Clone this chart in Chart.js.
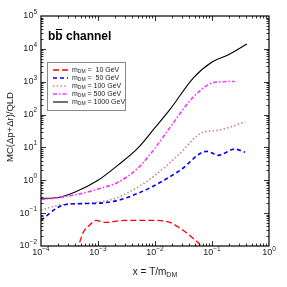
<!DOCTYPE html>
<html>
<head>
<meta charset="utf-8">
<script src="https://cdn.jsdelivr.net/npm/chart.js@4/dist/chart.umd.min.js"></script>
<style>
  body { margin: 0; background: #fff; }
  canvas { display: block; }
</style>
</head>
<body>
<canvas id="chart" width="287" height="287"></canvas>
<script>
// x = T/m_DM values, one list per curve
const x10 = [4.27e-4, 5.5e-4, 7.0e-4, 9.1e-4, 1.32e-3, 2.95e-3, 1.0e-2, 1.82e-2, 3.1e-2, 4.68e-2, 6.9e-2, 7.4e-2];
const y10 = [0.0071, 0.0257, 0.042, 0.060, 0.0525, 0.060, 0.060, 0.0525, 0.030, 0.017, 0.0091, 0.0079];

const x50 = [1e-4, 2.0e-4, 2.95e-4, 1e-3, 2.24e-3, 5.0e-3, 1e-2, 2.75e-2, 8.1e-2, 0.129, 0.25, 0.38];
const y50 = [0.060, 0.151, 0.186, 0.20, 0.245, 0.40, 0.71, 2.0, 7.6, 5.75, 8.9, 7.1];

const x100 = [1e-4, 2.0e-4, 1e-3, 2.24e-3, 5.0e-3, 1e-2, 2.5e-2, 6.9e-2, 0.123, 0.38];
const y100 = [0.123, 0.174, 0.214, 0.30, 0.62, 1.41, 5.6, 28.8, 33, 59];

const x500 = [1e-4, 2.0e-4, 3.98e-4, 1e-3, 2.24e-3, 5.0e-3, 1e-2, 1.82e-2, 4.68e-2, 0.1, 0.151, 0.25];
const y500 = [0.26, 0.295, 0.36, 0.54, 0.87, 2.34, 9.5, 40, 339, 912, 1000, 1020];

const x1000 = [1e-4, 2.0e-4, 3.98e-4, 1e-3, 2.24e-3, 5.0e-3, 1e-2, 1.82e-2, 4.68e-2, 0.1, 0.19, 0.41];
const y1000 = [0.28, 0.30, 0.44, 1.0, 2.9, 9.5, 40, 141, 1290, 3980, 6460, 14100];

const seriesLabels = ["=  10 GeV", "=  50 GeV", "= 100 GeV", "= 500 GeV", "= 1000 GeV"];
const xTickExps = [-4, -3, -2, -1, 0];
const yTickExps = [-2, -1, 0, 1, 2, 3, 4, 5];

const FONT = "'Liberation Sans', Arial, Helvetica, sans-serif";

function pts(xs, ys) {
    return xs.map((x, i) => ({ x: x, y: ys[i] }));
}

const styles = [
    { color: "#ff0000", dash: [6, 3], width: 1.3 },
    { color: "#0000ff", dash: [4, 3], width: 1.6 },
    { color: "#cd8585", dash: [1.5, 2.2], width: 1.6 },
    { color: "#ff33ff", dash: [4, 2, 1.5, 2], width: 1.6 },
    { color: "#000000", dash: [], width: 1.1 },
];
const allData = [pts(x10, y10), pts(x50, y50), pts(x100, y100), pts(x500, y500), pts(x1000, y1000)];

const datasets = allData.map((d, i) => ({
    label: seriesLabels[i],
    data: d,
    borderColor: styles[i].color,
    borderDash: styles[i].dash,
    borderWidth: styles[i].width,
    pointRadius: 0,
    cubicInterpolationMode: "monotone",
    fill: false,
}));

// draw "10" with a raised exponent
function powText(ctx, exp, x, y, align) {
    ctx.font = "9px " + FONT;
    const base = "10";
    const bw = ctx.measureText(base).width;
    ctx.font = "6.5px " + FONT;
    const es = exp < 0 ? "\u2212" + (-exp) : String(exp);
    const ew = ctx.measureText(es).width;
    let x0 = x;
    if (align === "right") x0 = x - bw - ew;
    if (align === "center") x0 = x - (bw + ew) / 2;
    ctx.textAlign = "left";
    ctx.textBaseline = "middle";
    ctx.font = "9px " + FONT;
    ctx.fillText(base, x0, y);
    ctx.font = "6.5px " + FONT;
    ctx.fillText(es, x0 + bw, y - 4);
}

const framePlugin = {
    id: "frame",
    afterDraw(chart) {
        const ctx = chart.ctx;
        const a = chart.chartArea;
        const xs = chart.scales.x;
        const ys = chart.scales.y;
        ctx.save();
        ctx.fillStyle = "#000";
        ctx.strokeStyle = "#000";

        // box
        ctx.lineWidth = 1.2;
        ctx.strokeRect(a.left, a.top, a.right - a.left, a.bottom - a.top);

        // ticks on all four sides, pointing inward
        ctx.lineWidth = 0.8;
        ctx.beginPath();
        for (let e = -4; e < 0; e++) {
            for (let m = 1; m <= 9; m++) {
                if (m === 1 && e === -4) continue;
                const px = Math.round(xs.getPixelForValue(m * Math.pow(10, e))) + 0.5;
                const len = m === 1 ? 5 : 2.5;
                ctx.moveTo(px, a.bottom); ctx.lineTo(px, a.bottom - len);
                ctx.moveTo(px, a.top); ctx.lineTo(px, a.top + len);
            }
        }
        for (let e = -2; e < 5; e++) {
            for (let m = 1; m <= 9; m++) {
                if (m === 1 && e === -2) continue;
                const py = Math.round(ys.getPixelForValue(m * Math.pow(10, e))) + 0.5;
                const len = m === 1 ? 5 : 2.5;
                ctx.moveTo(a.left, py); ctx.lineTo(a.left + len, py);
                ctx.moveTo(a.right, py); ctx.lineTo(a.right - len, py);
            }
        }
        ctx.stroke();

        // tick labels
        ctx.fillStyle = "#222";
        xTickExps.forEach((e) => {
            powText(ctx, e, xs.getPixelForValue(Math.pow(10, e)), a.bottom + 7, "center");
        });
        yTickExps.forEach((e) => {
            powText(ctx, e, a.left - 4, ys.getPixelForValue(Math.pow(10, e)), "right");
        });

        // x title
        ctx.textBaseline = "alphabetic";
        ctx.textAlign = "left";
        ctx.font = "10px " + FONT;
        const t1 = "x = T/m";
        const w1 = ctx.measureText(t1).width;
        ctx.font = "7px " + FONT;
        const w2 = ctx.measureText("DM").width;
        const xt = (a.left + a.right) / 2 - (w1 + w2) / 2;
        ctx.font = "10px " + FONT;
        ctx.fillText(t1, xt, 275);
        ctx.font = "7px " + FONT;
        ctx.fillText("DM", xt + w1, 277);

        // y title
        ctx.save();
        ctx.translate(13, 127);
        ctx.rotate(-Math.PI / 2);
        ctx.textAlign = "center";
        ctx.font = "9.5px " + FONT;
        ctx.fillText("MC(\u0394p+\u0394r)/QLD", 0, 0);
        ctx.restore();

        // channel label
        ctx.fillStyle = "#000";
        ctx.font = "bold 12px " + FONT;
        ctx.textAlign = "left";
        ctx.fillText("bb channel", 48, 40);
        const bw = ctx.measureText("b").width;
        ctx.lineWidth = 1;
        ctx.beginPath();
        ctx.moveTo(48 + bw + 0.5, 29.5);
        ctx.lineTo(48 + 2 * bw - 0.5, 29.5);
        ctx.stroke();

        // legend
        ctx.strokeStyle = "#888";
        ctx.lineWidth = 1;
        ctx.strokeRect(47.5, 62.5, 78, 48);
        chart.data.datasets.forEach((ds, i) => {
            const ry = 70 + i * 8;
            ctx.strokeStyle = ds.borderColor;
            ctx.lineWidth = ds.borderWidth;
            ctx.setLineDash(ds.borderDash);
            ctx.beginPath();
            ctx.moveTo(53, ry);
            ctx.lineTo(68, ry);
            ctx.stroke();
            ctx.setLineDash([]);
            ctx.fillStyle = "#222";
            ctx.textBaseline = "middle";
            ctx.font = "7px " + FONT;
            ctx.fillText("m", 72, ry);
            const mw = ctx.measureText("m").width;
            ctx.font = "5px " + FONT;
            ctx.fillText("DM", 72 + mw, ry + 2);
            const dw = ctx.measureText("DM").width;
            ctx.font = "7px " + FONT;
            ctx.fillText(" " + ds.label, 72 + mw + dw, ry);
        });
        ctx.restore();
    },
};

new Chart(document.getElementById("chart"), {
    type: "line",
    data: { datasets: datasets },
    plugins: [framePlugin],
    options: {
        responsive: false,
        animation: false,
        layout: { padding: { left: 41, top: 16, right: 18, bottom: 41 } },
        scales: {
            x: { type: "logarithmic", min: 1e-4, max: 1, display: false },
            y: { type: "logarithmic", min: 1e-2, max: 1e5, display: false },
        },
        plugins: {
            legend: { display: false },
            tooltip: { enabled: false },
        },
    },
});
</script>
</body>
</html>
